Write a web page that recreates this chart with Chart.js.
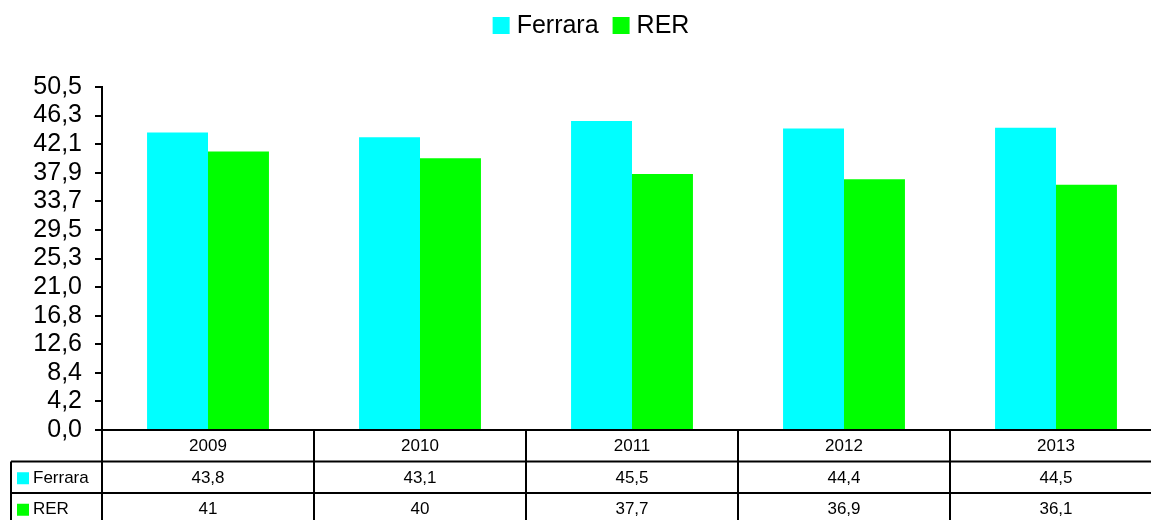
<!DOCTYPE html>
<html>
<head>
<meta charset="utf-8">
<script src="https://cdn.jsdelivr.net/npm/chart.js@4.4.0/dist/chart.umd.min.js"></script>
<style>
  html, body { margin: 0; padding: 0; background: #fff; overflow: hidden; }
  #wrap { width: 1182px; height: 520px; position: relative; }
</style>
</head>
<body>
<div id="wrap"><canvas id="chart"></canvas></div>
<script>
// Data
const years = ["2009", "2010", "2011", "2012", "2013"];
const ferrara = [43.8, 43.1, 45.5, 44.4, 44.5];
const rer = [41, 40, 37.7, 36.9, 36.1];
const yMax = 50.5;
const yTickLabels = ["0,0","4,2","8,4","12,6","16,8","21,0","25,3","29,5","33,7","37,9","42,1","46,3","50,5"];

const FONT = "'Liberation Sans', Arial, sans-serif";
const CYAN = "#00ffff";
const GREEN = "#00ff00";

const fmt = (v) => String(v).replace(".", ",");

// legend row at the top, drawn by hand so the spacing stays tight
const topLegend = {
  id: "topLegend",
  afterDraw(chart){
    const ctx = chart.ctx;
    const ds = chart.data.datasets;
    ctx.save();
    ctx.font = "25px " + FONT;
    ctx.textBaseline = "middle";
    ctx.textAlign = "left";
    const box = 17, gap = 7, itemGap = 14;
    const widths = ds.map(d => box + gap + ctx.measureText(d.label).width);
    const total = widths.reduce((a,b)=>a+b, 0) + itemGap*(ds.length-1);
    let x = 591 - total/2;
    const cy = 25.5;
    ds.forEach((d,i)=>{
      ctx.fillStyle = d.backgroundColor;
      ctx.fillRect(x, cy - box/2, box, box);
      ctx.fillStyle = "#000";
      ctx.fillText(d.label, x + box + gap, cy + 1);
      x += widths[i] + itemGap;
    });
    ctx.restore();
  }
};

// data table under the x axis
const dataTable = {
  id: "dataTable",
  afterDraw(chart){
    const ctx = chart.ctx;
    const area = chart.chartArea;
    const x = chart.scales.x;
    const colW = (area.right - area.left) / years.length;
    const rowH = 31.5;
    const top = area.bottom;
    const tableLeft = 11;
    const rows = [
      {label: "Ferrara", color: CYAN, values: ferrara},
      {label: "RER", color: GREEN, values: rer}
    ];
    ctx.save();
    ctx.strokeStyle = "#000";
    ctx.lineWidth = 2;
    ctx.beginPath();
    ctx.moveTo(area.left - 7, top); ctx.lineTo(area.right, top);
    for(let r=1; r<=rows.length+1; r++){
      ctx.moveTo(tableLeft, top + r*rowH); ctx.lineTo(area.right, top + r*rowH);
    }
    ctx.moveTo(tableLeft, top + rowH); ctx.lineTo(tableLeft, chart.height);
    for(let c=0; c<=years.length; c++){
      const cx = area.left + c*colW;
      ctx.moveTo(cx, top); ctx.lineTo(cx, chart.height);
    }
    ctx.stroke();

    ctx.fillStyle = "#000";
    ctx.font = "17px " + FONT;
    ctx.textAlign = "center";
    ctx.textBaseline = "middle";
    years.forEach((y,i)=>{
      ctx.fillText(y, x.getPixelForValue(i), top + rowH/2 + 1);
    });
    rows.forEach((row, r)=>{
      const cy = top + (r+1)*rowH + rowH/2 + 1;
      ctx.textAlign = "center";
      ctx.fillStyle = "#000";
      row.values.forEach((v,i)=> ctx.fillText(fmt(v), x.getPixelForValue(i), cy));
      ctx.fillStyle = row.color;
      ctx.fillRect(tableLeft + 6, cy - 6, 12, 12);
      ctx.fillStyle = "#000";
      ctx.textAlign = "left";
      ctx.fillText(row.label, tableLeft + 22, cy);
    });
    ctx.restore();
  }
};

new Chart(document.getElementById("chart"), {
  type: "bar",
  data: {
    labels: years,
    datasets: [
      {label: "Ferrara", data: ferrara, backgroundColor: CYAN},
      {label: "RER", data: rer, backgroundColor: GREEN}
    ]
  },
  options: {
    responsive: true,
    maintainAspectRatio: false,
    animation: false,
    layout: {padding: {left: 0, right: 20, top: 87, bottom: 90}},
    datasets: {bar: {categoryPercentage: 0.575, barPercentage: 1, borderWidth: 0}},
    plugins: {
      legend: {display: false},
      tooltip: {enabled: false}
    },
    scales: {
      x: {display: false},
      y: {
        min: 0,
        max: yMax,
        afterBuildTicks(scale){
          const n = yTickLabels.length - 1;
          scale.ticks = yTickLabels.map((_, i) => ({value: i * yMax / n}));
        },
        afterFit(scale){ scale.width = 102; },
        border: {color: "#000", width: 2},
        grid: {drawOnChartArea: false, drawTicks: true, tickLength: 7, color: "#000", lineWidth: 2},
        ticks: {
          color: "#000",
          padding: 13,
          autoSkip: false,
          font: {family: FONT, size: 25},
          callback: (v, i) => yTickLabels[i]
        }
      }
    }
  },
  plugins: [dataTable, topLegend]
});
</script>
</body>
</html>
